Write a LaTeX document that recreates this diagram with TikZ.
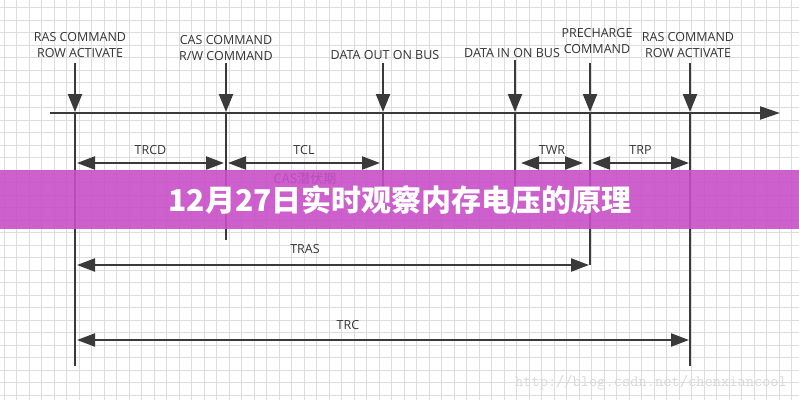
\documentclass[tikz,border=0pt]{standalone}
\usepackage{fontspec}
\setmainfont{Open Sans}
\newfontfamily\cjk{Noto Sans CJK SC}
\usetikzlibrary{arrows.meta}
\definecolor{ink}{HTML}{3A3A3A}
\definecolor{gridgray}{HTML}{DDDDDD}
\definecolor{bannerpink}{HTML}{C94FC9}

\begin{document}
\begin{tikzpicture}[
  x=1pt, y=-1pt, font=\fontsize{12.5}{16.5}\selectfont,
  every node/.style={align=center, inner sep=0pt, text=ink!90!black},
  gridline/.style={gridgray, line width=0.7pt},
  timeline/.style={-{Triangle[length=20pt,width=13pt]}, line width=2.2pt, ink},
  event/.style={-{Triangle[length=18pt,width=14pt]}, line width=2.2pt, ink},
  marker/.style={line width=2pt, ink},
  interval/.style={{Triangle[length=18pt,width=13pt]}-{Triangle[length=18pt,width=13pt]},
    line width=2.2pt, ink}]
\useasboundingbox (0,0) rectangle (799,400);
\fill[white] (0,0) rectangle (799,400);
\begin{scope}
\clip (0,0) rectangle (799,400);
\foreach \gx in {4.2,16.7,...,799} \draw[gridline] (\gx,0) -- (\gx,400);
\foreach \gy in {7.5,20,...,400} \draw[gridline] (0,\gy) -- (799,\gy);
\end{scope}
% time axis
\coordinate (axis start) at (50,113);
\coordinate (axis end) at (780,113);
\draw[timeline] (axis start) -- (axis end);
% events: name / x / top of arrow / foot of marker line
\foreach \ev/\ex/\top/\foot in {ras/75/63/366, cas/226/63/240, dout/383/63/188,
    din/515/60/188, pre/590/63/265, rasb/690/63/366} {
  \coordinate (\ev-top) at (\ex,\top);
  \coordinate (\ev-hit) at (\ex,112);
  \coordinate (\ev-foot) at (\ex,\foot);
  \draw[marker] (\ev-hit) -- (\ev-foot);
  \draw[event] (\ev-top) -- (\ev-hit);
}
\node (ras label) at (80,45) {RAS COMMAND\\ROW ACTIVATE};
\node (cas label) at (226,48) {CAS COMMAND\\R/W COMMAND};
\node (dout label) at (385,55) {DATA OUT ON BUS};
\node (din label) at (512,53) {DATA IN ON BUS};
\node (pre label) at (597,41) {PRECHARGE\\COMMAND};
\node (rasb label) at (688,45) {RAS COMMAND\\ROW ACTIVATE};
% timing intervals
\coordinate (trcd from) at (77,163);  \coordinate (trcd to) at (224,163);
\coordinate (tcl from) at (228,163);  \coordinate (tcl to) at (380,163);
\coordinate (twr from) at (521,163);  \coordinate (twr to) at (583,163);
\coordinate (trp from) at (592,163);  \coordinate (trp to) at (689,163);
\coordinate (tras from) at (77,265);  \coordinate (tras to) at (589,265);
\coordinate (trc from) at (77,340);   \coordinate (trc to) at (689,340);
\draw[interval] (trcd from) -- node[above=7pt] {TRCD} (trcd to);
\draw[interval] (tcl from) -- node[above=7pt] {TCL} (tcl to);
\draw[interval] (twr from) -- node[above=7pt] {TWR} (twr to);
\draw[interval] (trp from) -- node[above=7pt] {TRP} (trp to);
\draw[interval] (tras from) -- node[above=10pt, xshift=-28pt] {TRAS} (tras to);
\draw[interval] (trc from) -- node[above=9pt, xshift=-35pt] {TRC} (trc to);
\node[font=\cjk\fontsize{13}{15}\selectfont] (latency) at (305,179) {CAS潜伏期};
% overlay banner
\fill[bannerpink, opacity=0.9] (0,170) rectangle (799,229);
\node[font=\cjk\bfseries\fontsize{30}{34}\selectfont, text=white] (title) at (400,200)
  {12月27日实时观察内存电压的原理};
\node[font=\ttfamily\fontsize{16}{18}\selectfont, text=black!15] (site) at (651,383)
  {http://blog.csdn.net/chenxiancool};
\end{tikzpicture}
\end{document}
